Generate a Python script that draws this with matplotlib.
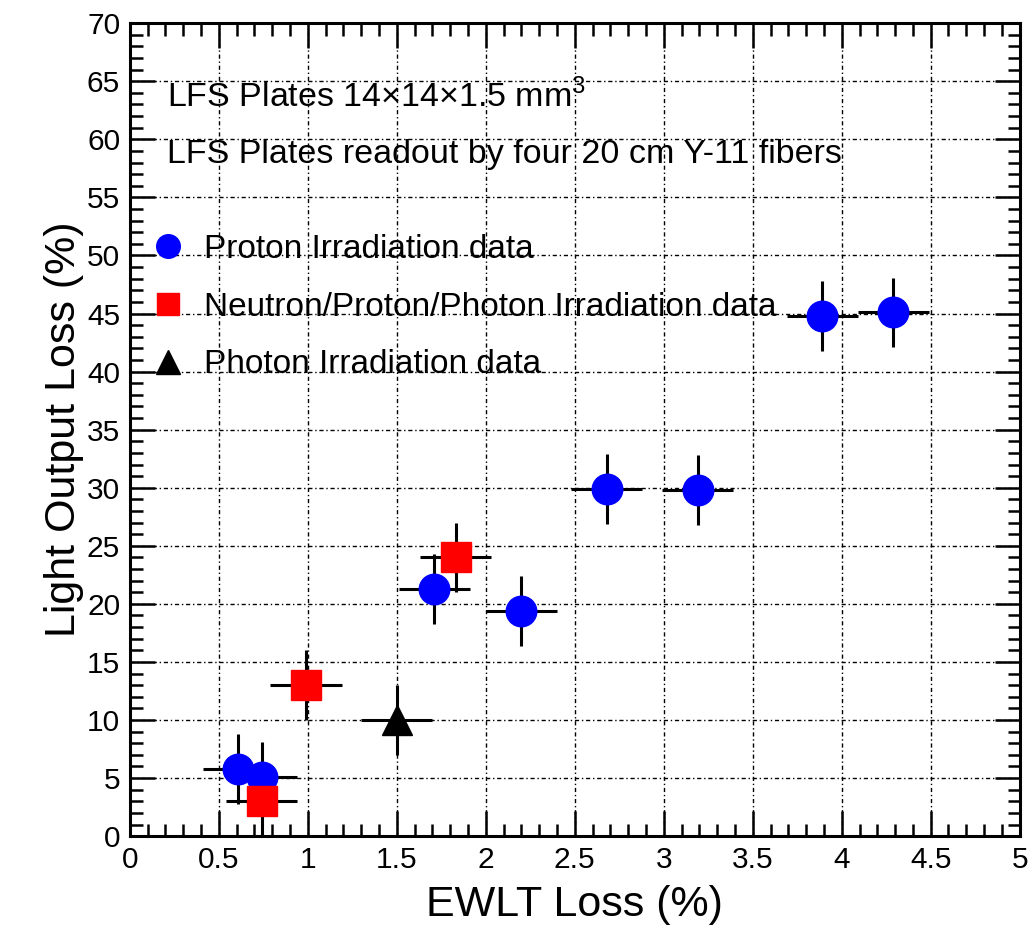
import matplotlib
matplotlib.use("Agg")
import matplotlib.pyplot as plt
from matplotlib.lines import Line2D
from matplotlib.ticker import MultipleLocator

plt.rcParams['font.family'] = ['Liberation Sans', 'DejaVu Sans']
plt.rcParams['mathtext.fontset'] = 'custom'
plt.rcParams['mathtext.rm'] = 'Liberation Sans'

# proton irradiation data
px = [0.61, 0.74, 1.71, 2.20, 2.68, 3.19, 3.89, 4.29]
py = [5.8, 5.1, 21.3, 19.4, 29.9, 29.8, 44.8, 45.1]
# neutron/proton/photon irradiation data
nx = [0.74, 0.99, 1.83]
ny = [3.0, 13.0, 24.0]
# photon irradiation data
gx = [1.50]
gy = [10.0]

xerr = 0.2
yerr = 3.0

fig = plt.figure(figsize=(10.31, 9.26), dpi=100)
ax = fig.add_axes([0.126, 0.097, 0.863, 0.878])

ebkw = dict(ls='none', ecolor='black', elinewidth=2.2, capsize=0, zorder=3)
ax.errorbar(px, py, xerr=xerr, yerr=yerr, marker='o', ms=22, mfc='blue', mec='blue', **ebkw)
ax.errorbar(nx, ny, xerr=xerr, yerr=yerr, marker='s', ms=21, mfc='red', mec='red', **ebkw)
ax.errorbar(gx, gy, xerr=xerr, yerr=yerr, marker='^', ms=22, mfc='black', mec='black', **ebkw)

ax.set_xlim(0, 5)
ax.set_ylim(0, 70)
ax.xaxis.set_major_locator(MultipleLocator(0.5))
ax.xaxis.set_minor_locator(MultipleLocator(0.1))
ax.yaxis.set_major_locator(MultipleLocator(5))
ax.yaxis.set_minor_locator(MultipleLocator(1))
ax.xaxis.set_major_formatter(plt.FuncFormatter(lambda v, p: f"{v:g}"))
ax.tick_params(which='both', direction='in', top=True, right=True, width=1.8, labelsize=21.5)
ax.tick_params(which='major', length=18, pad=7)
ax.tick_params(which='minor', length=9)
for s in ax.spines.values():
    s.set_linewidth(2.2)

ax.grid(True, which='major', color='black', ls=(0, (3, 2, 1, 2)), lw=1.0)
ax.set_axisbelow(True)

ax.set_xlabel('EWLT Loss (%)', fontsize=31, labelpad=8)
ax.set_ylabel('Light Output Loss (%)', fontsize=31, labelpad=2)

ax.text(0.042, 0.910, 'LFS Plates 14\u00d714\u00d71.5 mm$^3$', transform=ax.transAxes,
        fontsize=24.5, va='center')
ax.text(0.042, 0.839, 'LFS Plates readout by four 20 cm Y-11 fibers', transform=ax.transAxes,
        fontsize=24.5, va='center')

handles = [Line2D([], [], ls='none', marker='o', ms=17, mfc='blue', mec='blue'),
           Line2D([], [], ls='none', marker='s', ms=16, mfc='red', mec='red'),
           Line2D([], [], ls='none', marker='^', ms=17, mfc='black', mec='black')]
labels = ['Proton Irradiation data', 'Neutron/Proton/Photon Irradiation data',
          'Photon Irradiation data']
ax.legend(handles, labels, loc='upper left', bbox_to_anchor=(0.01, 0.757), frameon=False,
          fontsize=24, handlelength=0.95, handletextpad=0.6, labelspacing=0.8,
          borderaxespad=0.0)

fig.savefig('out.png', dpi=100)
